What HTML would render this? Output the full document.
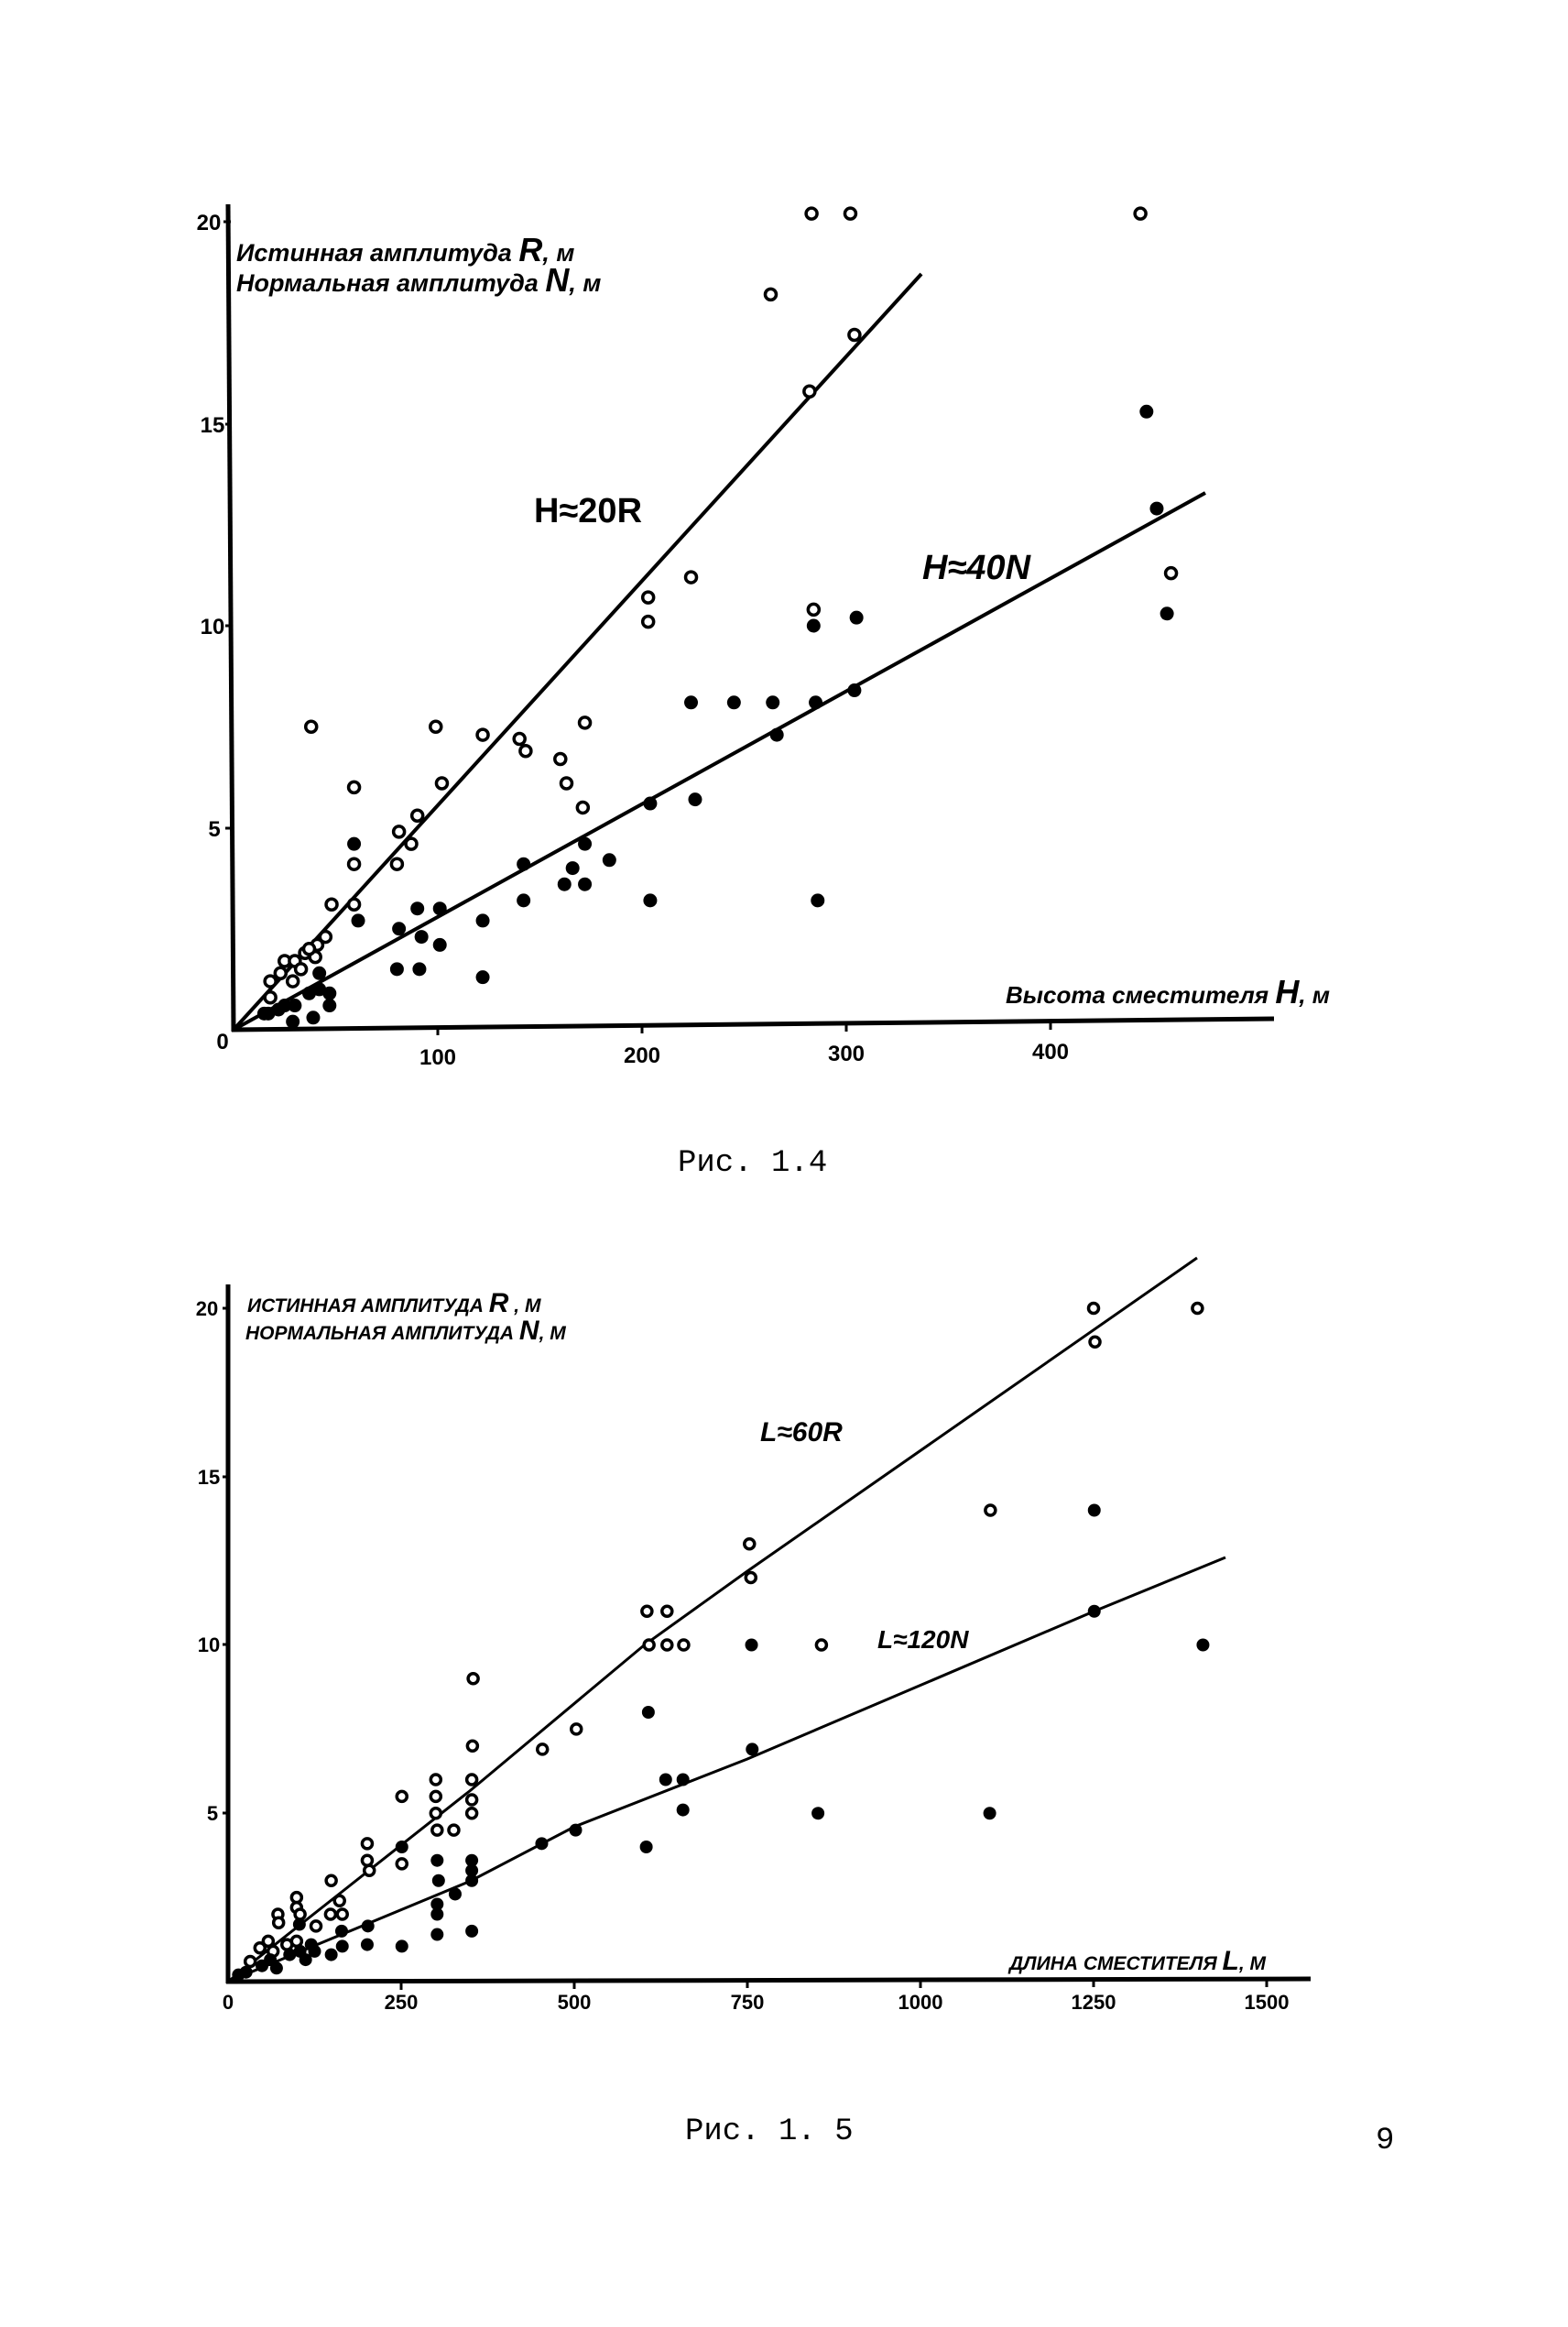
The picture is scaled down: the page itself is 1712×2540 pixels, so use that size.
<!DOCTYPE html>
<html><head><meta charset="utf-8"><style>
html,body{margin:0;padding:0;background:#fff}
svg{display:block}
.t{font-family:"Liberation Sans",sans-serif;font-weight:bold;font-style:italic;fill:#000}
.c{font-family:"Liberation Mono",monospace;fill:#000}
</style></head><body>
<svg id="s" width="1712" height="2540" viewBox="0 0 1712 2540" xmlns="http://www.w3.org/2000/svg">
<rect width="1712" height="2540" fill="#fff"/>
<line x1="249" y1="223" x2="255" y2="1126" stroke="#000" stroke-width="5"/>
<line x1="253" y1="1124" x2="1391" y2="1112" stroke="#000" stroke-width="5"/>
<g stroke="#000" stroke-width="3">
<line x1="244" y1="242" x2="252" y2="242"/><line x1="246" y1="463" x2="252" y2="463"/>
<line x1="246" y1="683" x2="253" y2="683"/><line x1="246" y1="904" x2="254" y2="904"/>
<line x1="478" y1="1120" x2="478" y2="1130"/><line x1="701" y1="1118" x2="701" y2="1128"/>
<line x1="924" y1="1116" x2="924" y2="1126"/><line x1="1147" y1="1114" x2="1147" y2="1124"/>
</g>
<g class="t" font-size="24" text-anchor="middle" style="font-style:normal">
<text x="228" y="251">20</text><text x="232" y="472">15</text><text x="232" y="692">10</text><text x="234" y="913">5</text><text x="243" y="1145">0</text>
<text x="478" y="1162">100</text><text x="701" y="1160">200</text><text x="924" y="1158">300</text><text x="1147" y="1156">400</text>
</g>
<text class="t" x="258" y="285" font-size="27">Истинная амплитуда <tspan font-size="36">R</tspan>, м</text>
<text class="t" x="258" y="318" font-size="27">Нормальная амплитуда <tspan font-size="36">N</tspan>, м</text>
<text class="t" x="1098" y="1095" font-size="26">Высота сместителя <tspan font-size="36">H</tspan>, м</text>
<text class="t" x="583" y="570" font-size="38" style="font-style:normal">H≈20R</text>
<text class="t" x="1007" y="632" font-size="38">H≈40N</text>
<line x1="255" y1="1124" x2="1006" y2="299" stroke="#000" stroke-width="4"/>
<line x1="255" y1="1124" x2="1316" y2="538" stroke="#000" stroke-width="4"/>
<text class="c" x="740" y="1278" font-size="34">Рис. 1.4</text>

<line x1="249" y1="1402" x2="249" y2="2165" stroke="#000" stroke-width="5"/>
<line x1="247" y1="2163" x2="1431" y2="2160" stroke="#000" stroke-width="5"/>
<g stroke="#000" stroke-width="3">
<line x1="243" y1="1428" x2="250" y2="1428"/><line x1="243" y1="1612" x2="250" y2="1612"/>
<line x1="243" y1="1795" x2="250" y2="1795"/><line x1="243" y1="1979" x2="250" y2="1979"/>
<line x1="438" y1="2162" x2="438" y2="2172"/><line x1="627" y1="2162" x2="627" y2="2171"/>
<line x1="816" y1="2161" x2="816" y2="2170"/><line x1="1005" y1="2161" x2="1005" y2="2170"/>
<line x1="1194" y1="2160" x2="1194" y2="2169"/><line x1="1383" y1="2160" x2="1383" y2="2169"/>
</g>
<g class="t" font-size="22" text-anchor="middle" style="font-style:normal">
<text x="226" y="1436">20</text><text x="228" y="1620">15</text><text x="228" y="1803">10</text><text x="232" y="1987">5</text>
<text x="249" y="2193">0</text><text x="438" y="2193">250</text><text x="627" y="2193">500</text><text x="816" y="2193">750</text>
<text x="1005" y="2193">1000</text><text x="1194" y="2193">1250</text><text x="1383" y="2193">1500</text>
</g>
<text class="t" x="270" y="1432" font-size="21">ИСТИННАЯ АМПЛИТУДА <tspan font-size="30">R</tspan> , М</text>
<text class="t" x="268" y="1462" font-size="21">НОРМАЛЬНАЯ АМПЛИТУДА <tspan font-size="30">N</tspan>, М</text>
<text class="t" x="1102" y="2150" font-size="21">ДЛИНА СМЕСТИТЕЛЯ <tspan font-size="30">L</tspan>, М</text>
<text class="t" x="830" y="1573" font-size="30">L≈60R</text>
<text class="t" x="958" y="1799" font-size="28">L≈120N</text>
<polyline fill="none" stroke="#000" stroke-width="3" points="249,2163 514,1954 703,1796 816,1715 1307,1373"/>
<polyline fill="none" stroke="#000" stroke-width="3" points="249,2163 514,2053 627,1994 816,1920 1194,1759 1338,1700"/>
<text class="c" x="748" y="2335" font-size="34">Рис. 1. 5</text>
<text class="c" x="1502" y="2345" font-size="34">9</text>
<g id="dots"></g>
</svg>
<script>
(function(){
var g=document.getElementById('dots'),NS='http://www.w3.org/2000/svg';
function dot(x,y,open,r){var c=document.createElementNS(NS,'circle');c.setAttribute('cx',x);c.setAttribute('cy',y);c.setAttribute('r',r);
if(open){c.setAttribute('fill','#fff');c.setAttribute('stroke','#000');c.setAttribute('stroke-width','3.5');}else c.setAttribute('fill','#000');g.appendChild(c);}
function dTop(H,v,o){dot(255+H*2.23,1124-v*44.1,o,o?6:7.5);}
function dBot(L,v,o){dot(249+L*0.756,2163-v*36.75,o,o?5.5:7);}
var tO=[[283,20.2],[302,20.2],[444,20.2],[263,18.2],[304,17.2],[282,15.8],[224,11.2],[203,10.7],[203,10.1],[284,10.4],[459,11.3],[38,7.5],[99,7.5],[122,7.3],[140,7.2],[143,6.9],[160,6.7],[163,6.1],[102,6.1],[59,6.0],[172,7.6],[171,5.5],[90,5.3],[81,4.9],[87,4.6],[80,4.1],[59,4.1],[48,3.1],[59,3.1],[45,2.3],[41,2.1],[35,1.9],[40,1.8],[25,1.7],[30,1.7],[23,1.4],[29,1.2],[18,1.2],[18,0.8],[33,1.5],[37,2.0]];
var tF=[[447,15.3],[452,12.9],[457,10.3],[284,10.0],[305,10.2],[224,8.1],[245,8.1],[264,8.1],[285,8.1],[304,8.4],[266,7.3],[226,5.7],[204,5.6],[204,3.2],[286,3.2],[59,4.6],[172,4.6],[184,4.2],[142,4.1],[166,4.0],[162,3.6],[172,3.6],[142,3.2],[90,3.0],[101,3.0],[61,2.7],[122,2.7],[81,2.5],[92,2.3],[101,2.1],[80,1.5],[91,1.5],[122,1.3],[47,0.9],[42,1.0],[37,0.9],[47,0.6],[39,0.3],[29,0.2],[30,0.6],[22,0.5],[17,0.4],[15,0.4],[42,1.4],[25,0.6]];
tO.forEach(function(p){dTop(p[0],p[1],1)});tF.forEach(function(p){dTop(p[0],p[1],0)});
var bO=[[1250,20],[1252,19],[1400,20],[1101,14],[753,13],[755,12],[605,11],[634,11],[608,10],[634,10],[658,10],[857,10],[354,9],[503,7.5],[454,6.9],[353,7],[300,6],[352,6],[251,5.5],[300,5.5],[352,5.4],[300,5],[352,5],[302,4.5],[326,4.5],[201,4.1],[251,3.5],[201,3.6],[204,3.3],[149,3],[161,2.4],[165,2],[148,2],[99,2.5],[99,2.2],[104,2],[127,1.65],[72,2],[73,1.75],[58,1.2],[46,1],[99,1.2],[32,0.6],[85,1.1],[65,0.9]];
var bF=[[1251,14],[1251,11],[1408,10],[756,10],[757,6.9],[607,8],[632,6],[657,6],[657,5.1],[852,5],[1100,5],[604,4],[453,4.1],[502,4.5],[251,4],[302,3.6],[352,3.6],[352,3.3],[352,3],[328,2.6],[304,3],[302,2.3],[302,2],[302,1.4],[352,1.5],[202,1.65],[201,1.1],[251,1.05],[164,1.5],[165,1.05],[149,0.8],[125,0.9],[103,1.7],[104,0.9],[89,0.8],[112,0.65],[61,0.65],[49,0.47],[26,0.28],[15,0.2],[70,0.4],[120,1.1]];
bO.forEach(function(p){dBot(p[0],p[1],1)});bF.forEach(function(p){dBot(p[0],p[1],0)});
})();
</script>
</body></html>
